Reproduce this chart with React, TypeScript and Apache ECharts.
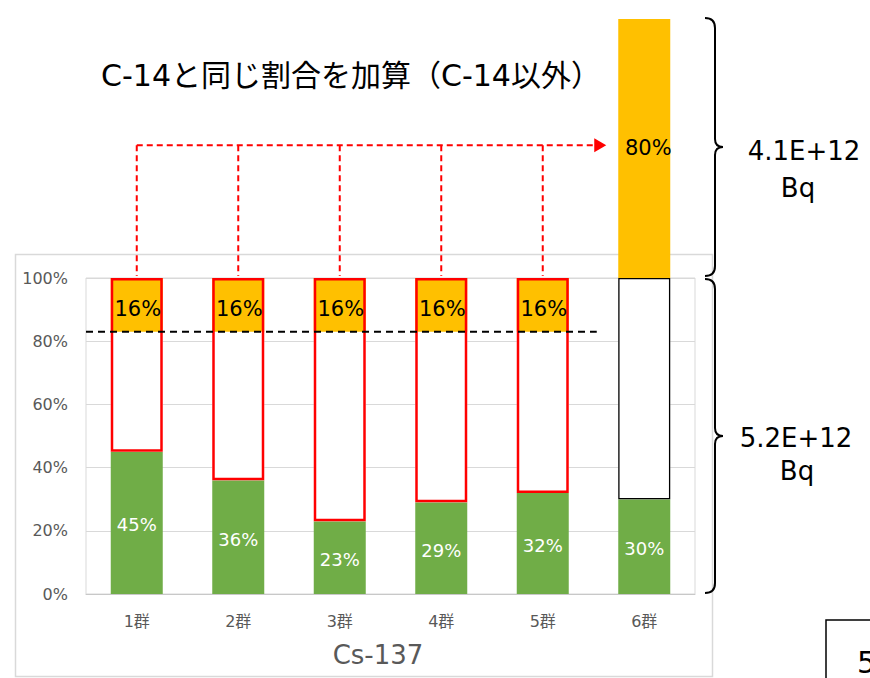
import React, { useEffect, useRef } from "react";
import * as echarts from "echarts";

const categories = ["1群", "2群", "3群", "4群", "5群", "6群"];
const cs137Share = [45, 36, 23, 29, 32, 30];
const addedShare = [17, 17, 17, 17, 17, null];
const addedLabels = ["16%", "16%", "16%", "16%", "16%", ""];
const extraShare = [null, null, null, null, null, 82];
const extraLabels = ["", "", "", "", "", "80%"];
const boxColors = ["#ff0000", "#ff0000", "#ff0000", "#ff0000", "#ff0000", "#000000"];
const yTicks = [0, 20, 40, 60, 80, 100];
const arrowLevel = 142;
const thresholdLevel = 83;
const totalTop = ["4.1E+12", "Bq"];
const totalBottom = ["5.2E+12", "Bq"];
const titleText = "C-14と同じ割合を加算（C-14以外）";
const axisTitle = "Cs-137";
const pageNo = "5";

const FONT = "'DejaVu Sans', 'Noto Sans CJK JP', sans-serif";

function bracePath(h: number): string {
  const m = h / 2;
  return `M0,0 C7,0 10,3 10,10 L10,${m - 8} C10,${m - 3} 13,${m} 18,${m} C13,${m} 10,${m + 3} 10,${m + 8} L10,${h - 10} C10,${h - 3} 7,${h} 0,${h}`;
}

export default function App() {
  const ref = useRef<HTMLDivElement>(null);
  useEffect(() => {
    if (!ref.current) return;
    const chart = echarts.init(ref.current, undefined, { renderer: "svg" });
    const whiteFill = cs137Share.map((g, i) => 100 - g - (addedShare[i] ?? 0));
    const barW = 52;
    chart.setOption({
      animation: false,
      grid: {
        left: 86,
        right: 175,
        top: 278,
        bottom: 84,
        show: true,
        borderColor: "#d9d9d9",
        borderWidth: 1,
        backgroundColor: "transparent",
      },
      xAxis: {
        type: "category",
        data: categories,
        axisTick: { show: false },
        axisLine: { lineStyle: { color: "#c8c8c8", width: 1 } },
        axisLabel: { color: "#595959", fontSize: 16, fontFamily: FONT, margin: 19 },
      },
      yAxis: {
        type: "value",
        min: yTicks[0],
        max: yTicks[yTicks.length - 1],
        interval: 20,
        axisLine: { show: false },
        axisTick: { show: false },
        splitLine: { lineStyle: { color: "#d9d9d9", width: 1 } },
        axisLabel: {
          color: "#595959",
          fontSize: 16,
          fontFamily: FONT,
          margin: 18,
          formatter: (v: number) => `${v}%`,
        },
      },
      series: [
        {
          type: "bar",
          stack: "a",
          barWidth: barW,
          barGap: "-100%",
          data: cs137Share,
          itemStyle: { color: "#70ad47" },
          label: {
            show: true,
            position: "inside",
            color: "#ffffff",
            fontSize: 18,
            fontFamily: FONT,
            offset: [0, 2],
            formatter: (p: any) => `${p.value}%`,
          },
        },
        {
          type: "bar",
          stack: "a",
          barWidth: barW,
          barGap: "-100%",
          data: whiteFill,
          itemStyle: { color: "#ffffff" },
        },
        {
          type: "bar",
          stack: "a",
          barWidth: barW,
          barGap: "-100%",
          data: addedShare.map((v) => (v == null ? "-" : v)),
          itemStyle: { color: "#ffc000" },
          label: {
            show: true,
            position: "inside",
            color: "#000000",
            fontSize: 21,
            fontFamily: FONT,
            offset: [1, 4],
            formatter: (p: any) => addedLabels[p.dataIndex],
          },
        },
        {
          type: "bar",
          stack: "a",
          barWidth: barW,
          barGap: "-100%",
          clip: false,
          data: extraShare.map((v) => (v == null ? "-" : v)),
          itemStyle: { color: "#ffc000" },
          label: {
            show: true,
            position: "inside",
            color: "#000000",
            fontSize: 21,
            fontFamily: FONT,
            offset: [4, 0],
            formatter: (p: any) => extraLabels[p.dataIndex],
          },
        },
        {
          type: "bar",
          stack: "b",
          barWidth: barW,
          barGap: "-100%",
          data: cs137Share,
          itemStyle: { color: "transparent" },
          silent: true,
        },
        {
          type: "bar",
          stack: "b",
          barWidth: barW,
          barGap: "-100%",
          silent: true,
          data: cs137Share.map((g, i) => ({
            value: 100 - g,
            itemStyle: {
              color: "transparent",
              borderColor: boxColors[i],
              borderWidth: i === 5 ? 1.3 : 2.5,
            },
          })),
        },
      ],
    });

    const px = (i: number, v: number) =>
      chart.convertToPixel({ xAxisIndex: 0, yAxisIndex: 0 }, [i, v]) as number[];

    const topY = px(5, 100 + (extraShare[5] ?? 0))[1];
    const hundredY = px(0, 100)[1];
    const zeroY = px(0, 0)[1];
    const arrowY = px(0, arrowLevel)[1];
    const threshY = px(0, thresholdLevel)[1];
    const gridLeft = px(0, 0)[0] - (px(1, 0)[0] - px(0, 0)[0]) / 2;
    const tipX = px(5, 0)[0] - barW / 2 - 12;
    const braceX = 705;

    const hTop = hundredY - topY - 1;
    const hBot = zeroY - hundredY - 2;
    echarts.graphic.registerShape("braceTop", echarts.graphic.extendPath(bracePath(hTop), {}));
    echarts.graphic.registerShape("braceBottom", echarts.graphic.extendPath(bracePath(hBot), {}));

    const redDash = { stroke: "#ff0000", lineWidth: 2, lineDash: [6, 4] };
    const bigText = (x: number, y: number, text: string, size: number) => ({
      type: "text",
      x,
      y,
      style: { text, fontSize: size, fontFamily: FONT, fill: "#000", textAlign: "center", textVerticalAlign: "middle" },
    });
    const graphics: any[] = [
      {
        type: "rect",
        z: -10,
        shape: { x: 15.5, y: 254.5, width: 697, height: 422 },
        style: { fill: "none", stroke: "#d9d9d9", lineWidth: 1.5 },
      },
      bigText(351, 75, titleText, 30),
      {
        type: "line",
        z: 50,
        shape: { x1: px(0, 0)[0], y1: arrowY, x2: tipX - 10, y2: arrowY },
        style: redDash,
      },
      {
        type: "polygon",
        z: 50,
        shape: {
          points: [
            [tipX - 12, arrowY - 7],
            [tipX, arrowY],
            [tipX - 12, arrowY + 7],
          ],
        },
        style: { fill: "#ff0000" },
      },
      {
        type: "line",
        z: 50,
        shape: { x1: gridLeft, y1: threshY, x2: px(4, 0)[0] + 54, y2: threshY },
        style: { stroke: "#000000", lineWidth: 2, lineDash: [7, 5] },
      },
      {
        type: "braceTop",
        x: braceX,
        y: topY - 1,
        style: { fill: "none", stroke: "#000000", lineWidth: 2 },
      },
      {
        type: "braceBottom",
        x: braceX,
        y: hundredY + 1,
        style: { fill: "none", stroke: "#000000", lineWidth: 2 },
      },
      bigText(804, topY + hTop / 2 + 3, totalTop[0], 26),
      bigText(798, topY + hTop / 2 + 40, totalTop[1], 26),
      bigText(796, hundredY + hBot / 2 + 3, totalBottom[0], 26),
      bigText(797, hundredY + hBot / 2 + 36, totalBottom[1], 26),
      {
        type: "text",
        x: 378,
        y: 655,
        style: { text: axisTitle, fontSize: 26, fontFamily: FONT, fill: "#595959", textAlign: "center", textVerticalAlign: "middle" },
      },
      {
        type: "rect",
        shape: { x: 826, y: 620, width: 80, height: 80 },
        style: { fill: "#ffffff", stroke: "#000000", lineWidth: 1.5 },
      },
      {
        type: "text",
        x: 857,
        y: 662,
        style: { text: pageNo, fontSize: 30, fontFamily: FONT, fill: "#000", textAlign: "left", textVerticalAlign: "middle" },
      },
    ];
    categories.slice(0, 5).forEach((_, i) => {
      const x = px(i, 0)[0];
      graphics.push({
        type: "line",
        z: 50,
        shape: { x1: x, y1: arrowY, x2: x, y2: hundredY - 2 },
        style: redDash,
      });
    });
    chart.setOption({ graphic: graphics });

    return () => chart.dispose();
  }, []);

  return (
    <div
      ref={ref}
      style={{ position: "fixed", left: 0, top: 0, width: 870, height: 678, background: "#fff" }}
    />
  );
}
